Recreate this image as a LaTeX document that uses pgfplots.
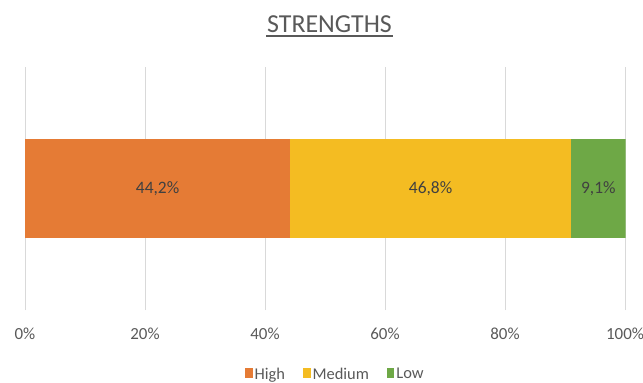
\documentclass[border=0pt]{standalone}
\usepackage{pgfplots}
\pgfplotsset{compat=1.18}
\usepackage{fontspec}
\setmainfont{Carlito}

\definecolor{cHigh}{HTML}{E57B35}
\definecolor{cMedium}{HTML}{F4BC22}
\definecolor{cLow}{HTML}{6EA846}
\definecolor{cGrid}{HTML}{D9D9D9}
\definecolor{cText}{HTML}{595959}
\definecolor{cLabel}{HTML}{404040}

\begin{document}
\begin{tikzpicture}[x=1bp,y=1bp]
\useasboundingbox (0,0) rectangle (643,382);
% chart title, underlined
\node[text=cText, font=\fontsize{26}{30}\selectfont, anchor=base, inner sep=0pt] at (329.5,350) {STRENGTHS};
\draw[cText, line width=1.3bp] (266,346) -- (393,346);

\begin{axis}[
  at={(25bp,72bp)}, anchor=south west,
  scale only axis, width=600.6bp, height=243bp,
  xbar stacked,
  xmin=0, xmax=100.1,
  ymin=-1.24, ymax=1.24,
  bar width=98bp,
  axis line style={draw=none},
  ytick=\empty,
  xtick={0,20,40,60,80,100},
  major tick length=0pt,
  xmajorgrids,
  grid style={cGrid, line width=1bp},
  /pgf/number format/assume math mode=true,
  xticklabel={\pgfmathprintnumber{\tick}\%},
  xticklabel style={anchor=base, yshift=-29bp, text=cText,
    font=\fontsize{17}{20}\selectfont},
  point meta=explicit,
  % stacked bars put these labels in the middle of each segment
  nodes near coords={\pgfmathprintnumber[fixed,fixed zerofill,precision=1,use comma]{\pgfplotspointmeta}\%},
  nodes near coords style={anchor=center, text=cLabel,
    font=\fontsize{17.5}{20}\selectfont},
  legend image code/.code={\fill[#1] (0bp,-4bp) rectangle (7.5bp,6bp);},
  legend columns=-1,
  legend style={at={(0.516,-0.225)}, anchor=north, draw=none, fill=none,
    font=\fontsize{16.5}{20}\selectfont, text=cText,
    nodes={inner sep=1bp},
    /tikz/every odd column/.append style={column sep=1bp},
    /tikz/every even column/.append style={column sep=17bp}},
]
\addplot[fill=cHigh, draw=none]   coordinates {(44.2,0) [44.2]};
\addplot[fill=cMedium, draw=none] coordinates {(46.8,0) [46.8]};
\addplot[fill=cLow, draw=none]    coordinates {(9.1,0) [9.1]};
\legend{High, Medium, Low}
\end{axis}
\end{tikzpicture}
\end{document}
